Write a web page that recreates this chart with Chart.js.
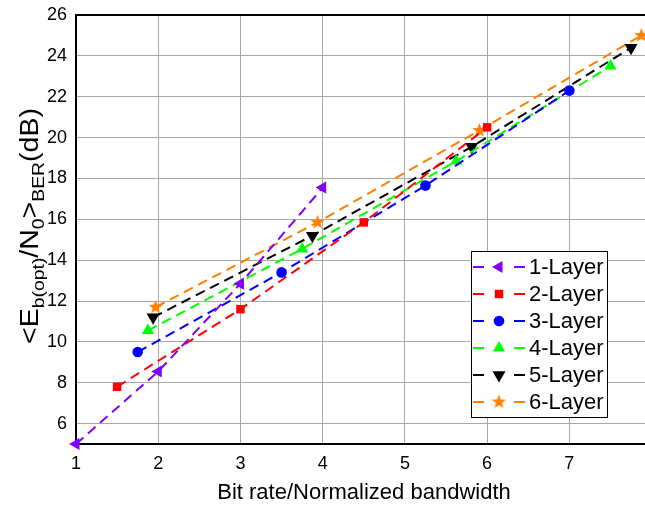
<!DOCTYPE html>
<html>
<head>
<meta charset="utf-8">
<script src="https://cdn.jsdelivr.net/npm/chart.js@4/dist/chart.umd.min.js"></script>
<style>
  body { margin: 0; background: #fff; }
  canvas { display: block; }
</style>
</head>
<body>
<canvas id="chart" width="645" height="505"></canvas>
<script>
const layerNames = ['1-Layer', '2-Layer', '3-Layer', '4-Layer', '5-Layer', '6-Layer'];

const bitRate1 = [1, 2, 3, 4];
const ebn1 = [5.0, 8.55, 12.85, 17.55];
const bitRate2 = [1.5, 3, 4.5, 6];
const ebn2 = [7.8, 11.6, 15.85, 20.5];
const bitRate3 = [1.75, 3.5, 5.25, 7];
const ebn3 = [9.5, 13.4, 17.65, 22.3];
const bitRate4 = [1.875, 3.75, 5.625, 7.5];
const ebn4 = [10.55, 14.55, 18.85, 23.5];
const bitRate5 = [1.9375, 3.875, 5.8125, 7.75];
const ebn5 = [11.2, 15.2, 19.55, 24.4];
const bitRate6 = [1.96875, 3.9375, 5.90625, 7.875];
const ebn6 = [11.7, 15.85, 20.35, 25.0];

const xTicks = [1, 2, 3, 4, 5, 6, 7];
const yTicks = [6, 8, 10, 12, 14, 16, 18, 20, 22, 24, 26];

const FONT = 'Liberation Sans, Arial, sans-serif';

// filled five point star, Chart.js has no such point style
const makeStar = (color, r) => {
  const c = document.createElement('canvas');
  c.width = c.height = r * 2 + 2;
  const g = c.getContext('2d');
  g.fillStyle = color;
  g.beginPath();
  for (let i = 0; i < 10; i++) {
    const rad = i % 2 === 0 ? r : r * 0.42;
    const a = -Math.PI / 2 + i * Math.PI / 5;
    const px = c.width / 2 + rad * Math.cos(a);
    const py = c.height / 2 + rad * Math.sin(a);
    if (i === 0) g.moveTo(px, py); else g.lineTo(px, py);
  }
  g.closePath();
  g.fill();
  return c;
};

const toPoints = (xs, ys) => xs.map((x, i) => ({ x, y: ys[i] }));

const series = [
  { x: bitRate1, y: ebn1, color: '#8000ff', style: 'triangle', rot: -90, r: 7 },
  { x: bitRate2, y: ebn2, color: '#ff0000', style: 'rect', rot: 0, r: 6 },
  { x: bitRate3, y: ebn3, color: '#0000ff', style: 'circle', rot: 0, r: 5.3 },
  { x: bitRate4, y: ebn4, color: '#00ff00', style: 'triangle', rot: 0, r: 7 },
  { x: bitRate5, y: ebn5, color: '#000000', style: 'triangle', rot: 180, r: 7.5 },
  { x: bitRate6, y: ebn6, color: '#ff8000', style: makeStar('#ff8000', 7.5), rot: 0, r: 7.5 },
];

const datasets = series.map((s, i) => ({
  label: layerNames[i],
  data: toPoints(s.x, s.y),
  showLine: true,
  borderColor: s.color,
  backgroundColor: s.color,
  borderWidth: 2,
  borderDash: [10, 6],
  pointStyle: s.style,
  pointRotation: s.rot,
  pointRadius: s.r,
  pointBorderWidth: 0,
  clip: false,
}));

const ctx = document.getElementById('chart').getContext('2d');

// y title with subscripts, and a legend with dash-marker-dash samples
const decorations = {
  id: 'decorations',
  afterDraw(chart) {
    const c = chart.ctx;

    c.save();
    c.fillStyle = '#000';
    c.font = `22px ${FONT}`;
    c.textAlign = 'center';
    c.textBaseline = 'middle';
    c.fillText('Bit rate/Normalized bandwidth', 364, 493);
    c.restore();

    const parts = [
      ['<E', false], ['b(opt)', true], ['/N', false], ['0', true],
      ['>', false], ['BER', true], ['(dB)', false],
    ];
    const mainFont = `25px ${FONT}`;
    const subFont = `17px ${FONT}`;
    c.save();
    let total = 0;
    parts.forEach(([t, sub]) => {
      c.font = sub ? subFont : mainFont;
      total += c.measureText(t).width;
    });
    c.translate(38, 226);
    c.rotate(-Math.PI / 2);
    c.scale(1.14, 1);
    c.fillStyle = '#000';
    c.textBaseline = 'alphabetic';
    let px = -total / 2;
    parts.forEach(([t, sub]) => {
      c.font = sub ? subFont : mainFont;
      c.fillText(t, px, sub ? 6 : 0);
      px += c.measureText(t).width;
    });
    c.restore();

    const box = { left: 471, top: 251, width: 136, height: 166 };
    c.save();
    c.fillStyle = '#fff';
    c.fillRect(box.left, box.top, box.width, box.height);
    c.strokeStyle = '#000';
    c.lineWidth = 1;
    c.strokeRect(box.left + 0.5, box.top + 0.5, box.width, box.height);
    chart.data.datasets.forEach((ds, i) => {
      const y = 267 + i * 27;
      c.strokeStyle = ds.borderColor;
      c.lineWidth = 2;
      c.beginPath();
      c.moveTo(473, y); c.lineTo(484, y);
      c.moveTo(514, y); c.lineTo(525, y);
      c.stroke();
      c.fillStyle = ds.backgroundColor;
      Chart.helpers.drawPoint(c, {
        pointStyle: ds.pointStyle,
        rotation: ds.pointRotation,
        radius: ds.pointRadius,
        borderWidth: 0,
      }, 499, y);
      c.fillStyle = '#000';
      c.font = `22px ${FONT}`;
      c.textAlign = 'left';
      c.textBaseline = 'middle';
      c.fillText(ds.label, 529, y + 1);
    });
    c.restore();
  },
};

new Chart(ctx, {
  type: 'scatter',
  data: { datasets },
  options: {
    responsive: false,
    animation: false,
    layout: { autoPadding: false, padding: { top: 15, right: 0, left: 0, bottom: 0 } },
    plugins: {
      legend: { display: false },
      tooltip: { enabled: false },
    },
    scales: {
      x: {
        type: 'linear',
        min: 1,
        max: 7.92,
        afterBuildTicks: (axis) => { axis.ticks = xTicks.map((v) => ({ value: v })); },
        afterFit: (axis) => {
          axis.height = 61;
          axis.paddingLeft = 0;
          axis.paddingRight = 0;
        },
        grid: { color: '#a8a8a8', lineWidth: 1, drawTicks: false },
        border: { color: '#000', width: 2 },
        ticks: {
          color: '#000',
          padding: 9,
          maxRotation: 0,
          font: { family: FONT, size: 18 },
        },
      },
      y: {
        type: 'linear',
        min: 5,
        max: 26,
        afterBuildTicks: (axis) => { axis.ticks = yTicks.map((v) => ({ value: v })); },
        afterFit: (axis) => {
          axis.width = 76;
          axis.paddingTop = 0;
          axis.paddingBottom = 0;
        },
        grid: {
          color: (c) => (c.tick && c.tick.value === 26 ? '#000' : '#a8a8a8'),
          lineWidth: (c) => (c.tick && c.tick.value === 26 ? 2 : 1),
          drawTicks: false,
        },
        border: { color: '#000', width: 2 },
        ticks: {
          color: '#000',
          padding: 9,
          font: { family: FONT, size: 18 },
        },
      },
    },
  },
  plugins: [decorations],
});
</script>
</body>
</html>
